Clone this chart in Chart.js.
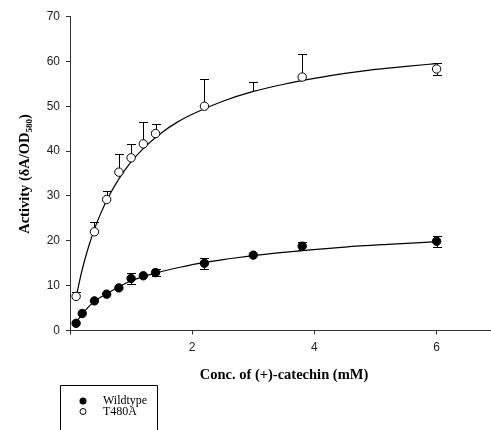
<!DOCTYPE html>
<html>
<head>
<meta charset="utf-8">
<script src="https://cdn.jsdelivr.net/npm/chart.js@4.4.0/dist/chart.umd.min.js"></script>
<style>
  body { margin: 0; background: #fff; }
  #wrap { width: 491px; height: 430px; }
</style>
</head>
<body>
<div id="wrap"><canvas id="chart" width="491" height="430"></canvas></div>
<script>
// 測定値 (+)-catechin 濃度 mM
const wtConc = [0.1, 0.2, 0.4, 0.6, 0.8, 1.0, 1.2, 1.4, 2.2, 3.0, 3.8, 6.0];
const wildtype = [1.6, 3.8, 6.6, 8.1, 9.5, 11.6, 12.2, 12.9, 15.0, 16.8, 18.8, 19.9];
const wildtypeErr = [0, 0, 0, 0, 0, 1.2, 0, 0.8, 1.25, 0, 0.9, 1.2];

const mutConc = [0.1, 0.4, 0.6, 0.8, 1.0, 1.2, 1.4, 2.2, 3.0, 3.8, 6.0];
const t480a = [7.6, 22.0, 29.2, 35.3, 38.5, 41.6, 43.9, 50.0, 53.4, 56.5, 58.3];
const t480aErrUp = [0.9, 2.2, 2.0, 4.1, 3.1, 4.9, 2.2, 6.1, 1.9, 5.2, 1.3];
const t480aErrDown = [0, 0, 0, 0, 0, 0, 0, 0, 0, 0, 1.3];

// フィット曲線
const wtFitX = [0.1, 0.2, 0.4, 0.6, 0.8, 1.0, 1.2, 1.4, 1.8, 2.2, 2.6, 3.0, 3.4, 3.8, 4.5, 5.2, 6.0];
const wtFit = [1.7, 3.7, 6.5, 8.2, 9.7, 11.1, 12.0, 12.8, 14.1, 15.2, 16.0, 16.7, 17.3, 17.8, 18.6, 19.2, 19.8];
const mutFitX = [0.1, 0.2, 0.3, 0.4, 0.5, 0.6, 0.8, 1.0, 1.25, 1.5, 1.75, 2.0, 2.5, 3.0, 3.5, 4.0, 4.5, 5.0, 5.5, 6.0];
const mutFit = [7.5, 13.6, 18.5, 22.6, 26.0, 29.0, 33.8, 37.6, 41.2, 44.1, 46.4, 48.2, 51.1, 53.3, 54.9, 56.2, 57.3, 58.2, 58.9, 59.5];

const xTicks = [2, 4, 6];
const yTicks = [0, 10, 20, 30, 40, 50, 60, 70];

function pts(xs, ys) {
    return xs.map((x, i) => ({ x: x, y: ys[i] }));
}

// エラーバー描画
const errorBars = {
    id: 'errorBars',
    beforeDatasetsDraw(chart) {
        const ctx = chart.ctx;
        const xs = chart.scales.x, ys = chart.scales.y;
        ctx.save();
        ctx.strokeStyle = '#000';
        ctx.lineWidth = 1;
        function bar(x, y, up, down) {
            const px = Math.round(xs.getPixelForValue(x)) + 0.5;
            const cap = 4.5;
            if (up > 0) {
                const t = Math.round(ys.getPixelForValue(y + up)) + 0.5;
                ctx.beginPath();
                ctx.moveTo(px, ys.getPixelForValue(y));
                ctx.lineTo(px, t);
                ctx.moveTo(px - cap, t);
                ctx.lineTo(px + cap, t);
                ctx.stroke();
            }
            if (down > 0) {
                const b = Math.round(ys.getPixelForValue(y - down)) + 0.5;
                ctx.beginPath();
                ctx.moveTo(px, ys.getPixelForValue(y));
                ctx.lineTo(px, b);
                ctx.moveTo(px - cap, b);
                ctx.lineTo(px + cap, b);
                ctx.stroke();
            }
        }
        wtConc.forEach((x, i) => bar(x, wildtype[i], wildtypeErr[i], wildtypeErr[i]));
        mutConc.forEach((x, i) => bar(x, t480a[i], t480aErrUp[i], t480aErrDown[i]));
        ctx.restore();
    }
};

// 軸タイトルと凡例
const labels = {
    id: 'labels',
    afterDraw(chart) {
        const ctx = chart.ctx;
        ctx.save();
        ctx.fillStyle = '#000';
        ctx.textBaseline = 'middle';

        // x軸タイトル
        ctx.font = 'bold 14.5px "Liberation Serif", "Times New Roman", serif';
        ctx.textAlign = 'center';
        ctx.fillText('Conc. of (+)-catechin (mM)', 284, 375);

        // y軸タイトル（下付き文字）
        ctx.translate(25, 174);
        ctx.rotate(-Math.PI / 2);
        const main = 'Activity (\u03b4A/OD';
        const sub = '580';
        const tail = ')';
        const fMain = 'bold 14.5px "Liberation Serif", "Times New Roman", serif';
        const fSub = 'bold 9px "Liberation Serif", "Times New Roman", serif';
        ctx.font = fMain;
        const w1 = ctx.measureText(main).width;
        const w3 = ctx.measureText(tail).width;
        ctx.font = fSub;
        const w2 = ctx.measureText(sub).width;
        const sx = -(w1 + w2 + w3) / 2;
        ctx.textAlign = 'left';
        ctx.font = fMain;
        ctx.fillText(main, sx, 0);
        ctx.font = fSub;
        ctx.fillText(sub, sx + w1, 4.5);
        ctx.font = fMain;
        ctx.fillText(tail, sx + w1 + w2, 0);
        ctx.setTransform(1, 0, 0, 1, 0, 0);

        // 凡例
        ctx.strokeStyle = '#000';
        ctx.lineWidth = 1;
        ctx.beginPath();
        ctx.moveTo(60.5, 440);
        ctx.lineTo(60.5, 385.5);
        ctx.lineTo(157.5, 385.5);
        ctx.lineTo(157.5, 440);
        ctx.stroke();
        ctx.beginPath();
        ctx.arc(83, 401, 3.5, 0, Math.PI * 2);
        ctx.fill();
        ctx.beginPath();
        ctx.arc(83, 411.5, 3, 0, Math.PI * 2);
        ctx.stroke();
        ctx.font = '12px "Liberation Serif", "Times New Roman", serif';
        ctx.textAlign = 'left';
        ctx.fillText('Wildtype', 103, 400.5);
        ctx.fillText('T480A', 103, 412);
        ctx.restore();
    }
};

function createChart() {
    const ctx = document.getElementById('chart').getContext('2d');
    const tickFont = { family: '"Liberation Sans", Arial, sans-serif', size: 12 };
    new Chart(ctx, {
        type: 'scatter',
        data: {
            datasets: [
                {
                    label: 'Wildtype',
                    data: pts(wtConc, wildtype),
                    showLine: false,
                    pointRadius: 4.2,
                    pointBackgroundColor: '#000',
                    pointBorderColor: '#000',
                    pointBorderWidth: 1
                },
                {
                    label: 'T480A',
                    data: pts(mutConc, t480a),
                    showLine: false,
                    pointRadius: mutConc.map(x => x === 3.0 ? 0 : 4.2),
                    pointBackgroundColor: '#fff',
                    pointBorderColor: '#000',
                    pointBorderWidth: 1
                },
                {
                    data: pts(wtFitX, wtFit),
                    showLine: true,
                    pointRadius: 0,
                    borderColor: '#000',
                    borderWidth: 1.2,
                    cubicInterpolationMode: 'monotone'
                },
                {
                    data: pts(mutFitX, mutFit),
                    showLine: true,
                    pointRadius: 0,
                    borderColor: '#000',
                    borderWidth: 1.2,
                    cubicInterpolationMode: 'monotone'
                }
            ]
        },
        options: {
            responsive: false,
            animation: false,
            layout: { autoPadding: false, padding: { top: 16.5, right: 0, left: 0, bottom: 0 } },
            plugins: {
                legend: { display: false },
                tooltip: { enabled: false }
            },
            scales: {
                x: {
                    type: 'linear',
                    min: 0,
                    max: 6.89,
                    afterFit: s => { s.height = 99.5; s.paddingRight = 0; s.paddingLeft = 0; },
                    afterBuildTicks: s => { s.ticks = [0].concat(xTicks).map(v => ({ value: v })); },
                    ticks: {
                        color: '#222',
                        font: tickFont,
                        padding: 6,
                        maxRotation: 0,
                        callback: v => (v === 0 ? '' : v)
                    },
                    grid: { drawOnChartArea: false, drawTicks: true, tickLength: 4, color: '#333' },
                    border: { color: '#333', width: 1 }
                },
                y: {
                    min: 0,
                    max: 70,
                    afterFit: s => { s.width = 70; s.paddingTop = 0; s.paddingBottom = 0; },
                    afterBuildTicks: s => { s.ticks = yTicks.map(v => ({ value: v })); },
                    ticks: { color: '#222', font: tickFont, padding: 6 },
                    grid: { drawOnChartArea: false, drawTicks: true, tickLength: 4, color: '#333' },
                    border: { color: '#333', width: 1 }
                }
            }
        },
        plugins: [errorBars, labels]
    });
}

window.onload = function() {
    createChart();
};
</script>
</body>
</html>
